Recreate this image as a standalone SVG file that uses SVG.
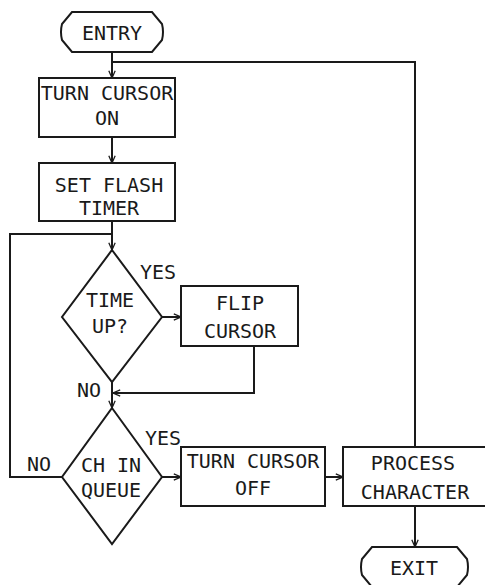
<svg xmlns="http://www.w3.org/2000/svg" width="485" height="585" viewBox="0 0 485 585">
<defs>
<style>
.n{fill:none;stroke:#1a1a1a;stroke-width:2}
.c{fill:none;stroke:#1a1a1a;stroke-width:2}
text{font-family:"DejaVu Sans Mono","Liberation Mono",monospace;font-size:20px;fill:#1a1a1a;text-anchor:middle}
</style>
<marker id="a" viewBox="0 0 10 10" refX="10" refY="5" markerWidth="8" markerHeight="8" orient="auto" markerUnits="userSpaceOnUse">
<path d="M1,1 L10,5 L1,9" fill="none" stroke="#1a1a1a" stroke-width="1.6"/>
</marker>
</defs>
<rect width="485" height="585" fill="#fff"/>
<g id="connectors">
<path class="c" d="M112,52 V78" marker-end="url(#a)"/>
<path class="c" d="M415,447 V62 H113"/>
<path class="c" d="M112,137 V163" marker-end="url(#a)"/>
<path class="c" d="M112,221 V250" marker-end="url(#a)"/>
<path class="c" d="M62,477 H10 V234 H112"/>
<path class="c" d="M162,317 H181" marker-end="url(#a)"/>
<path class="c" d="M254,346 V393 H113" marker-end="url(#a)"/>
<path class="c" d="M112,382 V408" marker-end="url(#a)"/>
<path class="c" d="M162,477 H181" marker-end="url(#a)"/>
<path class="c" d="M325,477 H343" marker-end="url(#a)"/>
<path class="c" d="M415,506 V547" marker-end="url(#a)"/>
<text x="158" y="279">YES</text>
<text x="89" y="397">NO</text>
<text x="163" y="445">YES</text>
<text x="39" y="471">NO</text>
</g>
<g id="entry">
<path class="n" d="M72,12 H152 L162,24 Q164,32 162,40 L152,52 H72 L62,40 Q60,32 62,24 Z"/>
<text x="112" y="40">ENTRY</text>
</g>
<g id="turn-on">
<rect class="n" x="39" y="78" width="136" height="59"/>
<text x="107" y="100">TURN CURSOR</text>
<text x="107" y="125">ON</text>
</g>
<g id="set-flash">
<rect class="n" x="39" y="163" width="136" height="58"/>
<text x="109" y="192">SET FLASH</text>
<text x="109" y="215">TIMER</text>
</g>
<g id="time-up">
<path class="n" d="M112,250 L162,317 L112,382 L62,317 Z"/>
<text x="110" y="307">TIME</text>
<text x="110" y="333">UP?</text>
</g>
<g id="flip">
<rect class="n" x="181" y="286" width="117" height="60"/>
<text x="240" y="310">FLIP</text>
<text x="240" y="338">CURSOR</text>
</g>
<g id="ch-in-queue">
<path class="n" d="M112,408 L162,477 L112,544 L62,477 Z"/>
<text x="111" y="472">CH IN</text>
<text x="111" y="497">QUEUE</text>
</g>
<g id="turn-off">
<rect class="n" x="181" y="447" width="144" height="59"/>
<text x="253" y="468">TURN CURSOR</text>
<text x="253" y="495">OFF</text>
</g>
<g id="process">
<rect class="n" x="343" y="447" width="146" height="59"/>
<text x="413" y="470">PROCESS</text>
<text x="415" y="499">CHARACTER</text>
</g>
<g id="exit">
<path class="n" d="M372,547 H457 L467,559 Q469,567 467,575 L457,587 H372 L362,575 Q360,567 362,559 Z"/>
<text x="414" y="575">EXIT</text>
</g>
</svg>
